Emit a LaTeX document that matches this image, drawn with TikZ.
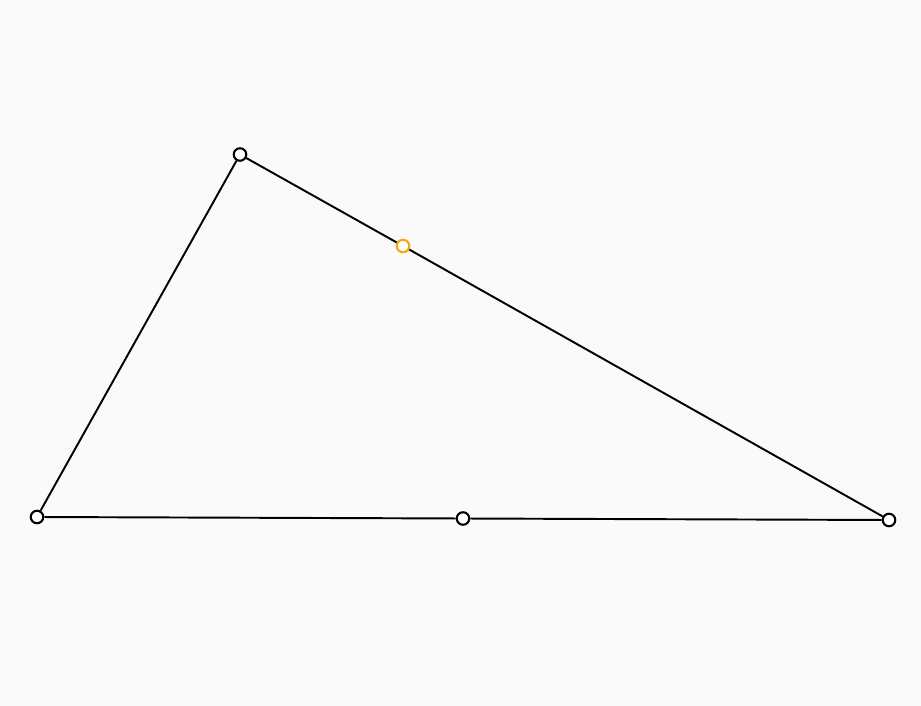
\documentclass[tikz,border=0pt]{standalone}
\usetikzlibrary{positioning}
\definecolor{bgcol}{RGB}{250,250,250}
\definecolor{ptorange}{RGB}{240,170,10}

\begin{document}
\begin{tikzpicture}[
    x=0.02cm, y=-0.02cm,
    pt/.style={circle, draw, line width=1.2pt, fill=white,
               inner sep=0pt, minimum size=0.25cm},
    side/.style={line width=1.1pt}
  ]
  \fill[bgcol] (0,0) rectangle (921,706);
  \useasboundingbox (0,0) rectangle (921,706);

  \node[pt] (a) at (37,517) {};
  \node[pt] (b) at (240,154.5) {};
  \node[pt] (c) at (889,520) {};
  \node[pt] (m) at (463,518.5) {};
  \node[pt, draw=ptorange] (p) at (403,246) {};

  \draw[side] (a) -- (b);
  \draw[side] (b) -- (p);
  \draw[side] (p) -- (c);
  \draw[side] (a) -- (m);
  \draw[side] (m) -- (c);
\end{tikzpicture}
\end{document}
